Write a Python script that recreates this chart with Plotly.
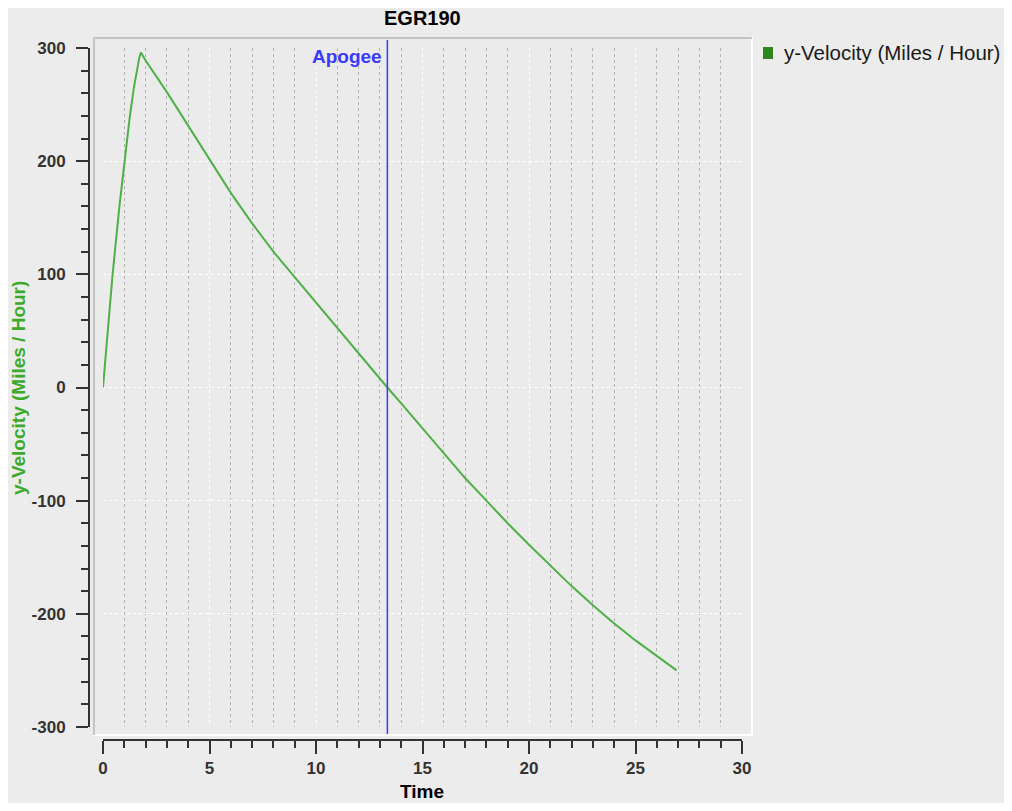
import plotly.graph_objects as go

# flight data
time_s = [0, 0.45, 0.77, 1.0, 1.25, 1.45, 1.6, 1.7, 1.78, 2.0, 3.0, 4.0, 5.0, 6.0,
          7.0, 8.0, 9.0, 10.0, 11.0, 12.0, 13.0, 13.35, 14.0, 15.0, 16.0, 17.0,
          18.0, 19.0, 20.0, 21.0, 22.0, 23.0, 24.0, 25.0, 26.0, 26.93]
y_velocity = [0, 100, 160, 200, 238, 265, 282, 291, 296, 289, 261, 231.5, 201, 172,
              145, 120, 97.5, 75, 52.5, 30, 7.7, 0, -14, -36, -58.5, -80,
              -100, -120, -139, -157.5, -175.5, -192.5, -208.5, -223.5, -237.5, -250]
series_name = 'y-Velocity (Miles / Hour)'
apogee_time = 13.35
x_ticks = [0, 5, 10, 15, 20, 25, 30]
y_ticks = [-300, -200, -100, 0, 100, 200, 300]
y_tick_text = ['-300', '-200', '-100', '0', '100', '200', '300']

# page has an 8px body margin, so the figure is a bit smaller than the window
OFF = 8
W, H = 1012 - 2 * OFF, 811 - 2 * OFF


def px(x):
    return (x - OFF) / W


def py(y):
    return 1 - (y - OFF) / H


fig = go.Figure()

fig.add_trace(go.Scatter(x=time_s, y=y_velocity, mode='lines', name=series_name,
                         line=dict(color='rgb(80,176,72)', width=2),
                         showlegend=False))

tick_font = dict(family='Liberation Sans, Arial, sans-serif', size=17, color='#333333',
                 weight='bold')

fig.update_layout(
    width=W, height=H,
    margin=dict(l=0, r=0, t=0, b=0),
    paper_bgcolor='white',
    plot_bgcolor='rgba(0,0,0,0)',
    font=dict(family='Liberation Sans, Arial, sans-serif'),
    showlegend=False,
    xaxis=dict(
        domain=[px(103), px(742)], range=[0, 30],
        anchor='free', position=py(740),
        tickvals=x_ticks, ticks='outside', ticklen=13, tickwidth=2, tickcolor='#333333',
        showline=True, linewidth=2, linecolor='#333333',
        tickfont=tick_font, ticklabelstandoff=0,
        showgrid=True, gridcolor='white', griddash='dot', gridwidth=1,
        minor=dict(dtick=1, ticks='outside', ticklen=7, tickwidth=2, tickcolor='#333333',
                   showgrid=True, gridcolor='#b4b4b4', griddash='dot', gridwidth=1),
        zeroline=False, automargin=False,
    ),
    yaxis=dict(
        domain=[py(727), py(48)], range=[-300, 300],
        anchor='free', position=px(89),
        tickvals=y_ticks, ticktext=y_tick_text,
        ticks='outside', ticklen=12, tickwidth=2, tickcolor='#333333',
        showline=True, linewidth=2, linecolor='#333333',
        tickfont=tick_font, ticklabelstandoff=7,
        showgrid=True, gridcolor='white', griddash='dot', gridwidth=1,
        minor=dict(dtick=20, ticks='outside', ticklen=7, tickwidth=2, tickcolor='#333333',
                   showgrid=False),
        zeroline=False, automargin=False,
    ),
)

# outer panel and plot area backgrounds
fig.add_shape(type='rect', xref='paper', yref='paper', layer='below',
              x0=px(4), x1=px(1010), y0=py(809), y1=py(4),
              fillcolor='#ececec', line=dict(width=0))
fig.add_shape(type='rect', xref='paper', yref='paper', layer='below',
              x0=px(94), x1=px(752), y0=py(735), y1=py(38),
              fillcolor='#ebebeb', line=dict(color='white', width=2))
fig.add_shape(type='path', xref='paper', yref='paper', layer='below',
              path=f'M {px(94)} {py(735)} L {px(94)} {py(38)} L {px(752)} {py(38)}',
              line=dict(color='#c4c4c4', width=2))

# legend drawn by hand so it doesn't push the plot margins
fig.add_shape(type='rect', xref='paper', yref='paper',
              x0=px(763), x1=px(773), y0=py(59), y1=py(47),
              fillcolor='rgb(45,135,30)', line=dict(width=0))
fig.add_annotation(x=px(782), y=py(53), xref='paper', yref='paper', text=series_name,
                   showarrow=False, xanchor='left', yanchor='middle',
                   font=dict(size=20.5, color='#1a1a1a'))

# apogee marker
fig.add_shape(type='line', xref='x', yref='paper', x0=apogee_time, x1=apogee_time,
              y0=py(734), y1=py(40), line=dict(color='#3a3aff', width=1.5))
fig.add_annotation(x=apogee_time, xref='x', y=py(57), yref='paper', text='<b>Apogee</b>',
                   showarrow=False, xanchor='right', yanchor='middle', xshift=-3,
                   font=dict(size=19, color='#3a3aff'))

# titles
fig.add_annotation(x=px(422), y=py(18), xref='paper', yref='paper', text='<b>EGR190</b>',
                   showarrow=False, xanchor='center', yanchor='middle',
                   font=dict(size=20, color='black'))
fig.add_annotation(x=px(422), y=py(791), xref='paper', yref='paper', text='<b>Time</b>',
                   showarrow=False, xanchor='center', yanchor='middle',
                   font=dict(size=19, color='black'))
fig.add_annotation(x=px(18), y=py(388), xref='paper', yref='paper',
                   text='<b>y-Velocity (Miles / Hour)</b>', textangle=-90,
                   showarrow=False, xanchor='center', yanchor='middle',
                   font=dict(size=19, color='rgb(60,170,40)'))

fig.write_html("out.html")
